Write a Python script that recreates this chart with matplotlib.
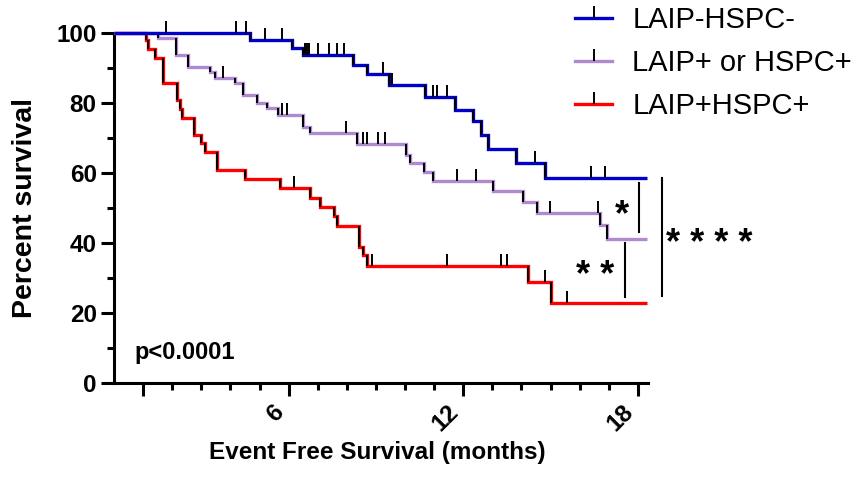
import numpy as np
import matplotlib
matplotlib.use("Agg")
import matplotlib.pyplot as plt
from matplotlib.path import Path
from matplotlib.lines import Line2D

# ---------------- data ----------------
groups = ["LAIP-HSPC-", "LAIP+ or HSPC+", "LAIP+HSPC+"]
colors = ["#0000C8", "#B08AD0", "#FF0000"]

blue_event_t = [4.67, 6.10, 6.50, 8.22, 8.68, 9.45, 10.69, 11.73, 12.34, 12.60, 12.85, 13.81, 14.81]
blue_surv = [98.0, 95.6, 93.7, 90.9, 88.3, 85.1, 81.8, 78.1, 74.8, 70.9, 67.0, 62.9, 58.7]
blue_censor_t = [1.79, 4.19, 4.54, 5.19, 5.78, 6.56, 6.64, 6.70, 7.00, 7.39, 7.65, 7.91,
                 9.23, 9.55, 10.97, 11.11, 11.43, 14.47, 16.39, 16.87]

purple_event_t = [1.52, 2.14, 2.55, 3.29, 3.47, 4.16, 4.43, 4.90, 5.25, 5.62, 6.50, 6.74,
                  8.34, 10.03, 10.17, 10.66, 10.95, 13.01, 14.07, 14.52, 16.70, 16.93]
purple_surv = [98.7, 93.6, 90.4, 88.9, 87.1, 85.6, 82.3, 80.0, 78.5, 76.6, 73.2, 71.4,
               68.4, 65.1, 62.8, 60.4, 57.8, 54.9, 51.8, 48.7, 45.1, 41.1]
purple_censor_t = [3.76, 5.76, 5.93, 7.97, 8.56, 8.68, 9.08, 9.31, 11.78, 12.44, 14.98, 16.62]

red_event_t = [1.09, 1.18, 1.41, 1.70, 2.15, 2.26, 2.33, 2.75, 2.98, 3.13, 3.53, 4.51, 5.70,
               6.74, 7.08, 7.55, 7.65, 8.42, 8.57, 8.70, 14.24, 15.02]
red_surv = [98.0, 95.3, 93.0, 85.6, 80.9, 78.2, 75.6, 70.9, 68.5, 65.9, 60.9, 58.3, 55.6,
            52.9, 50.4, 47.6, 44.9, 38.9, 36.6, 33.4, 28.9, 22.8]
red_censor_t = [6.20, 8.85, 11.43, 13.30, 13.50, 14.81, 15.58]

follow_up_end = 18.3

y_ticks = [0, 20, 40, 60, 80, 100]
x_major_ticks = [1, 6, 12, 18]
x_tick_labels = ["", "6", "12", "18"]

p_text = "p<0.0001"
# (label, text x, text y, bar x, bar y0, bar y1)
sig_marks = [("*", 17.46, 47.7, 18.05, 43.2, 57.1),
             ("* *", 16.53, 30.5, 17.56, 24.5, 39.9),
             ("* * * *", 20.45, 39.5, 18.82, 24.9, 58.5)]

# ---------------- drawing ----------------
plt.rcParams['font.family'] = ['Liberation Sans', 'DejaVu Sans']

W, H = 859, 493
fig = plt.figure(figsize=(W / 100, H / 100), dpi=100)
ax = fig.add_axes([114 / W, 110 / H, (648 - 114) / W, (383 - 33) / H])
ax.set_xlim(0, 18.35)
ax.set_ylim(0, 100)

tick_up = Path([(0, 0), (0, 1)], [Path.MOVETO, Path.LINETO])


def km_curve(ev_t, surv, cens_t, color, z):
    xs, ys = [0.0], [100.0]
    prev = 100.0
    prevs = []
    for t, s in zip(ev_t, surv):
        xs += [t, t]
        ys += [prev, s]
        prevs.append(prev)
        prev = s
    xs.append(follow_up_end)
    ys.append(prev)
    ax.plot(xs, ys, color=color, lw=2.4, zorder=z, clip_on=False,
            solid_joinstyle='miter', solid_capstyle='butt')
    ax.vlines(ev_t, prevs, surv, color='black', lw=1.4, zorder=z + 0.1, clip_on=False)
    ev = np.asarray(ev_t)
    sv = np.concatenate([[100.0], np.asarray(surv)])
    cy = sv[np.searchsorted(ev, np.asarray(cens_t), side='right')]
    ax.plot(cens_t, cy, linestyle='none', marker=tick_up, markersize=17,
            markeredgewidth=1.4, color='black', zorder=z + 0.2, clip_on=False)


km_curve(red_event_t, red_surv, red_censor_t, colors[2], 3)
km_curve(purple_event_t, purple_surv, purple_censor_t, colors[1], 4)
km_curve(blue_event_t, blue_surv, blue_censor_t, colors[0], 5)

# axes styling
for side in ['top', 'right']:
    ax.spines[side].set_visible(False)
for side in ['left', 'bottom']:
    ax.spines[side].set_linewidth(2.2)

ax.set_yticks(y_ticks)
ax.set_yticks([10, 30, 50, 70, 90], minor=True)
ax.set_xticks(x_major_ticks)
ax.set_xticklabels(x_tick_labels)
ax.set_xticks(np.arange(2, 18), minor=True)
ax.tick_params(which='major', length=9.5, width=2.2, pad=3)
ax.tick_params(which='minor', length=5, width=2.2)
for lab in ax.get_yticklabels():
    lab.set_fontsize(17.5)
    lab.set_fontweight('bold')
for lab in ax.get_xticklabels():
    lab.set_fontsize(17.5)
    lab.set_fontweight('bold')
    lab.set_rotation(45)
    lab.set_ha('right')

ax.set_ylabel("Percent survival", fontsize=20.5, fontweight='bold')
ax.yaxis.set_label_coords(-0.142, 0.5)
ax.set_xlabel("Event Free Survival (months)", fontsize=17.5, fontweight='bold')
ax.xaxis.label.set_va('center')
ax.xaxis.set_label_coords(0.4925, -0.20)

ax.text(0.72, 8.6, p_text, fontsize=17, fontweight='bold', ha='left', va='center')

for lab, tx, ty, bx, b0, b1 in sig_marks:
    ax.text(tx, ty, lab, fontsize=26, fontweight='bold', ha='center', va='center',
            clip_on=False)
    ax.plot([bx, bx], [b0, b1], color='black', lw=1.5, clip_on=False)

handles = [Line2D([0], [0], color=c, lw=2.4, marker=tick_up, markersize=17,
                  markeredgewidth=1.4, markeredgecolor='black')
           for c in colors]
leg = ax.legend(handles, groups, loc='upper left', bbox_to_anchor=(575 / W, 1 - 6 / H),
                bbox_transform=fig.transFigure, frameon=False, fontsize=21,
                handlelength=1.27, handletextpad=0.7, labelspacing=0.52,
                borderpad=0, borderaxespad=0)

fig.savefig("out.png", dpi=100)
